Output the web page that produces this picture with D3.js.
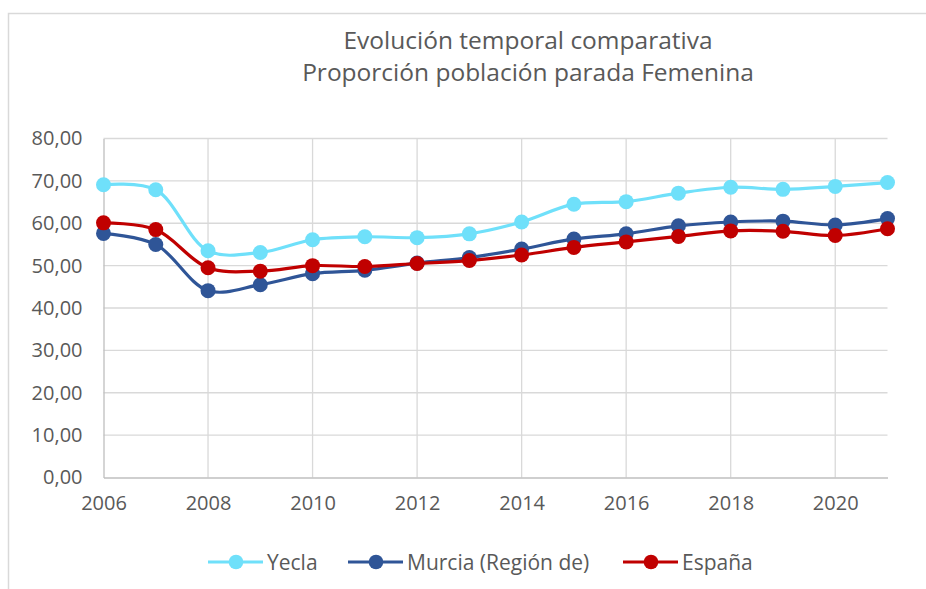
<!DOCTYPE html>
<html><head><meta charset="utf-8">
<script src="https://cdn.jsdelivr.net/npm/d3@7/dist/d3.min.js"></script>
<style>body{margin:0;background:#fff}svg{display:block}</style>
</head><body>
<svg id="c" width="926" height="589"></svg>
<script>
const years = [2006,2007,2008,2009,2010,2011,2012,2013,2014,2015,2016,2017,2018,2019,2020,2021];
const yecla   = [69.1,67.9,53.5,53.1,56.1,56.8,56.6,57.5,60.3,64.5,65.1,67.1,68.5,68.0,68.7,69.6];
const murcia  = [57.6,55.0,44.1,45.5,48.1,48.9,50.6,51.9,53.9,56.3,57.5,59.4,60.3,60.5,59.6,61.1];
const espana  = [60.1,58.5,49.5,48.7,50.0,49.8,50.5,51.2,52.5,54.3,55.6,56.9,58.2,58.1,57.1,58.7];
const seriesNames = ["Yecla","Murcia (Región de)","España"];
const seriesColors = ["#6FE0FA","#2F5597","#C00000"];
const xTicks = [2006,2008,2010,2012,2014,2016,2018,2020];
const yTicks = [0,10,20,30,40,50,60,70,80];
const titleLines = ["Evolución temporal comparativa","Proporción población parada Femenina"];

const svg = d3.select("#c");
const font = "'Open Sans','Noto Sans',sans-serif";
const textCol = "#595959";

// chart area border
svg.append("path").attr("d","M8.5,600 V13.5 H940").attr("fill","none").attr("stroke","#D9D9D9").attr("stroke-width",1.5);

const x = d3.scaleLinear().domain([2006,2021]).range([103.5,887.5]);
const y = d3.scaleLinear().domain([0,80]).range([477.5,138.5]);

// horizontal grid
svg.append("g").selectAll("line").data(yTicks.filter(d=>d>0)).join("line")
  .attr("x1",x(2006)).attr("x2",x(2021)).attr("y1",d=>y(d)).attr("y2",d=>y(d))
  .attr("stroke","#D9D9D9").attr("stroke-width",1.3);
// vertical grid
svg.append("g").selectAll("line").data(xTicks.filter(d=>d>2006)).join("line")
  .attr("x1",d=>x(d)).attr("x2",d=>x(d)).attr("y1",y(0)).attr("y2",y(80))
  .attr("stroke","#D9D9D9").attr("stroke-width",1.3);

// axes
const xAxis = d3.axisBottom(x).tickValues(xTicks).tickFormat(d3.format("d")).tickSize(0).tickPadding(18);
const gx = svg.append("g").attr("transform",`translate(0,${y(0)})`).call(xAxis);
gx.select(".domain").attr("stroke","#BFBFBF").attr("stroke-width",1.3);
gx.selectAll("text").attr("font-family",font).attr("font-size",20).attr("fill",textCol);

const fmt = v => d3.format(".2f")(v).replace(".",",");
const yAxis = d3.axisLeft(y).tickValues(yTicks).tickFormat(fmt).tickSize(0).tickPadding(21);
const gy = svg.append("g").attr("transform",`translate(${x(2006)},0)`).call(yAxis);
gy.select(".domain").attr("stroke","#BFBFBF").attr("stroke-width",1.3);
gy.selectAll("text").attr("font-family",font).attr("font-size",20).attr("fill",textCol);

// title
svg.append("g").selectAll("text").data(titleLines).join("text")
  .attr("x",528).attr("y",(d,i)=>49+i*32).attr("text-anchor","middle")
  .attr("font-family",font).attr("font-size",24.5).attr("fill",textCol).text(d=>d);

const data = [yecla,murcia,espana];
const line = d3.line().x((d,i)=>x(years[i])).y(d=>y(d)).curve(d3.curveCatmullRom.alpha(0.5));
data.forEach((s,k)=>{
  const g = svg.append("g");
  g.append("path").attr("d",line(s)).attr("fill","none").attr("stroke",seriesColors[k]).attr("stroke-width",3.2);
  g.selectAll("circle").data(s).join("circle")
    .attr("cx",(d,i)=>x(years[i])).attr("cy",d=>y(d)).attr("r",7.5).attr("fill",seriesColors[k]);
});

// legend
const legX = [208,348,623];
const lg = svg.append("g");
seriesNames.forEach((n,k)=>{
  const g = lg.append("g").attr("transform",`translate(${legX[k]},562)`);
  g.append("line").attr("x1",0).attr("x2",55).attr("stroke",seriesColors[k]).attr("stroke-width",3.2);
  g.append("circle").attr("cx",28).attr("r",7.3).attr("fill",seriesColors[k]);
  g.append("text").attr("x",59).attr("y",7.5).attr("font-family",font).attr("font-size",21).attr("fill",textCol).text(n);
});
</script>
</body></html>
